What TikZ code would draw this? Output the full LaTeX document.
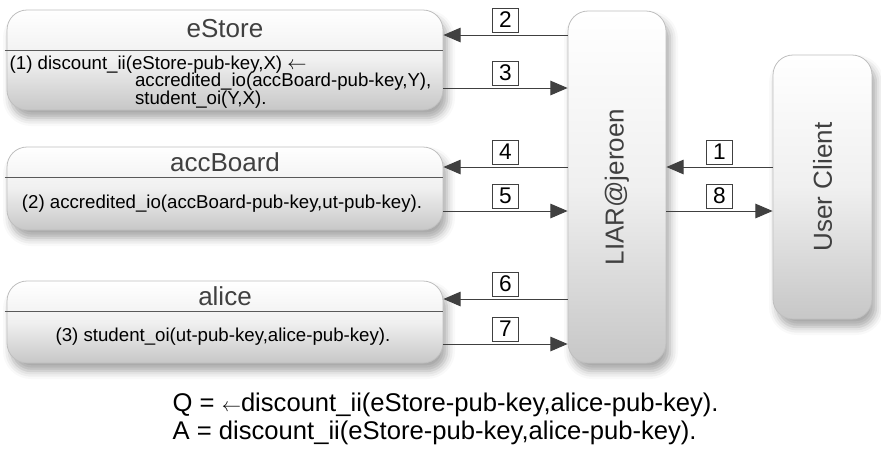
\documentclass[tikz,border=0pt]{standalone}
\usepackage{fontspec}
\setmainfont{Liberation Sans}
\usetikzlibrary{arrows.meta, calc, shadows.blur}
\newcommand{\rulefont}{\fontsize{14}{13.1}\selectfont\lineskiplimit=-5pt\relax}

\begin{document}
\begin{tikzpicture}[x=0.75pt, y=-0.75pt, >={Triangle[length=13pt, width=11pt]},
  every node/.style={font=\fontsize{14}{16}\selectfont},
  party/.style={draw=black!25, line width=0.6pt, rounded corners=15pt, top color=white, bottom color=black!22, middle color=black!6,
    blur shadow={shadow xshift=3pt, shadow yshift=-6pt, shadow blur radius=6pt, shadow opacity=35}},
  title/.style={font=\fontsize{19.5}{20}\selectfont, text=black!75},
  divider/.style={draw=black!65, line width=0.75pt},
  msgnum/.style={draw, line width=0.6pt, minimum width=20pt, minimum height=18pt, inner sep=0pt, midway, above=2pt, font=\fontsize{17}{17}\selectfont},
  flow/.style={->, draw=black!75, line width=0.75pt}]
  \useasboundingbox (0,0) rectangle (881,455);

  % the three parties with their policies
  \node[party, minimum width=327pt, minimum height=75pt] (eStore) at (225,60) {};
  \node[title] (eStoreName) at (225,29) {eStore};
  \draw[divider] ($(eStore.west)+(-2,-10)$) -- ($(eStore.east)+(0,-10)$);
  \node[anchor=west, align=left, font=\rulefont] (eStoreRule) at (5,82) {(1) discount\_ii(eStore-pub-key,X) $\leftarrow$\\\hspace*{94pt}accredited\_io(accBoard-pub-key,Y),\\\hspace*{94pt}student\_oi(Y,X).};

  \node[party, minimum width=327pt, minimum height=62.25pt] (accBoard) at (225,188.5) {};
  \node[title] (accBoardName) at (225,162) {accBoard};
  \draw[divider] ($(accBoard.west)+(-2,-11.5)$) -- ($(accBoard.east)+(0,-11.5)$);
  \node (accBoardRule) at (222,203.5) {(2) accredited\_io(accBoard-pub-key,ut-pub-key).};

  \node[party, minimum width=327pt, minimum height=61.5pt] (alice) at (225,322) {};
  \node[title] (aliceName) at (225,296) {alice};
  \draw[divider] ($(alice.west)+(-2,-11)$) -- ($(alice.east)+(0,-11)$);
  \node (aliceRule) at (223,337) {(3) student\_oi(ut-pub-key,alice-pub-key).};

  % reasoner and client
  \node[party, minimum width=73.5pt, minimum height=264pt] (liar) at (617,187) {};
  \node[title, rotate=90] (liarName) at (liar) {LIAR@jeroen};
  \node[party, minimum width=74.25pt, minimum height=198pt] (client) at (822.5,187) {};
  \node[title, rotate=90] (clientName) at (client) {User Client};

  % messages
  \draw[flow] ($(client.west)+(0,-20)$) -- ($(liar.east)+(0,-20)$) node[msgnum] {1};
  \draw[flow] ($(liar.west |- eStore.east)+(0,-25)$) -- ($(eStore.east)+(0,-25)$) node[msgnum] {2};
  \draw[flow] ($(eStore.east)+(0,28)$) -- ($(liar.west |- eStore.east)+(0,28)$) node[msgnum] {3};
  \draw[flow] ($(liar.west |- accBoard.east)+(0,-21.5)$) -- ($(accBoard.east)+(0,-21.5)$) node[msgnum] {4};
  \draw[flow] ($(accBoard.east)+(0,22.5)$) -- ($(liar.west |- accBoard.east)+(0,22.5)$) node[msgnum] {5};
  \draw[flow] ($(liar.west |- alice.east)+(0,-23)$) -- ($(alice.east)+(0,-23)$) node[msgnum] {6};
  \draw[flow] ($(alice.east)+(0,22)$) -- ($(liar.west |- alice.east)+(0,22)$) node[msgnum] {7};
  \draw[flow] ($(liar.east)+(0,24)$) -- ($(client.west)+(0,24)$) node[msgnum] {8};

  % query and answer
  \node[anchor=west, font=\fontsize{19.2}{21}\selectfont] (query) at (168,405) {Q = {\fontsize{14}{14}\selectfont$\leftarrow$}discount\_ii(eStore-pub-key,alice-pub-key).};
  \node[anchor=west, font=\fontsize{19.2}{21}\selectfont] (answer) at (168,433) {A = discount\_ii(eStore-pub-key,alice-pub-key).};
\end{tikzpicture}
\end{document}
